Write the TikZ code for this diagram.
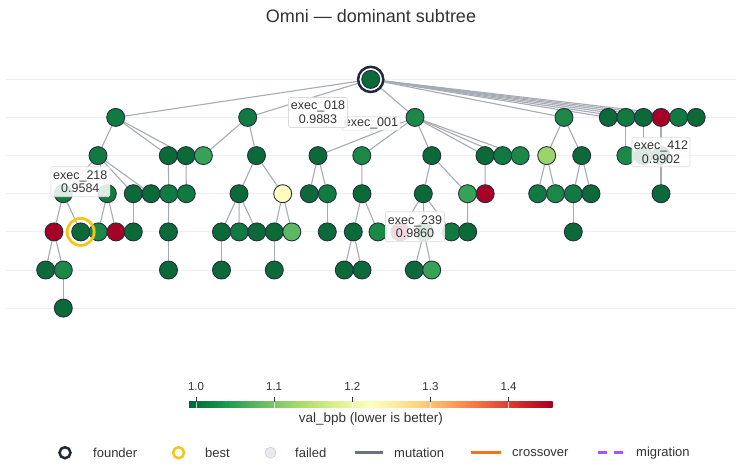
\documentclass[tikz,border=0pt]{standalone}
\usepackage{fontspec}
\setmainfont{Liberation Sans}
\usetikzlibrary{backgrounds}
\definecolor{g1}{HTML}{0B6A38}
\definecolor{g2}{HTML}{117A40}
\definecolor{g3}{HTML}{1B8848}
\definecolor{g4}{HTML}{35A257}
\definecolor{g5}{HTML}{5DB862}
\definecolor{yg}{HTML}{9CD46B}
\definecolor{py}{HTML}{FEFEC0}
\definecolor{rd}{HTML}{A50026}
\definecolor{ndborder}{HTML}{243040}
\definecolor{edgec}{HTML}{A7ACB4}
\definecolor{gridc}{HTML}{EEF0F3}
\definecolor{founderc}{HTML}{1E2A3B}
\definecolor{bestc}{HTML}{F5C518}
\definecolor{txt}{HTML}{333333}
\definecolor{lblborder}{HTML}{DDDDDD}
\definecolor{failc}{HTML}{E8EAEE}
\definecolor{failb}{HTML}{CDD3DB}
\definecolor{mutc}{HTML}{6B7280}
\definecolor{crossc}{HTML}{F97316}
\definecolor{migc}{HTML}{A855F7}
\definecolor{s0}{HTML}{006837}
\definecolor{s1}{HTML}{1A9850}
\definecolor{s2}{HTML}{66BD63}
\definecolor{s3}{HTML}{A6D96A}
\definecolor{s4}{HTML}{D9EF8B}
\definecolor{s5}{HTML}{FFFFBF}
\definecolor{s6}{HTML}{FEE08B}
\definecolor{s7}{HTML}{FDAE61}
\definecolor{s8}{HTML}{F46D43}
\definecolor{s9}{HTML}{D73027}
\definecolor{s10}{HTML}{A50026}
\begin{document}
\begin{tikzpicture}[x=1pt,y=-1pt,
  nd/.style={circle, draw=ndborder, line width=0.9pt, minimum size=18pt, inner sep=0pt},
  edge/.style={draw=edgec, line width=1.1pt},
  lbl/.style={draw=lblborder, line width=0.6pt, fill=white, fill opacity=0.86, text opacity=1,
    rounded corners=1.5pt, align=center, font=\fontsize{12.5}{13.7}\selectfont, text=txt,
    inner sep=0pt, minimum width=59pt, minimum height=30pt},
  legtxt/.style={anchor=west, font=\fontsize{13}{15}\selectfont, text=txt, inner sep=0pt},
  ticklbl/.style={anchor=base, font=\fontsize{11.5}{13}\selectfont, text=txt, inner sep=0pt}
]
\useasboundingbox (0,0) rectangle (742,467);

% title
\node[font=\fontsize{18}{20}\selectfont, text=txt] (title) at (371,16) {Omni — dominant subtree};

% ---- nodes ----
% root
\node[circle, draw=founderc, line width=2.5pt, fill=white, minimum size=25.2pt, inner sep=0pt] (Rr) at (370.7,79.4) {};
\node[nd, fill=g1] (R) at (370.7,79.4) {};
% level 1
\foreach \n/\x/\c in {A/115.7/g2, B/247.7/g2, C/415/g3, D/564/g3, E1/608.3/g1, E2/625.9/g2, E3/643.4/g1, E4/661/rd, E5/678.6/g2, E6/696.2/g1}
  \node[nd, fill=\c] (\n) at (\x,117.4) {};
% level 2
\foreach \n/\x/\c in {A1/98/g2, A2/168.3/g1, A3/186/g1, B1/203.4/g4, B2/256.5/g1, C1/318/g1, C2/361.8/g3, C3/431.8/g1, C4/485/g1, C5/502.6/g2, C6/520.2/g3, D1/546.7/yg, D2/581.7/g1, E2a/625.9/g3, E3a/643.4/g1, E4a/661/g1}
  \node[nd, fill=\c] (\n) at (\x,155.6) {};
% level 3
\foreach \n/\x/\c in {a1/63.3/g2, a2/107.3/g2, a3/133.3/g1, a4/151/g1, a5/168.8/g2, a6/186.3/g2, b1/239/g1, b2/282.7/py, c1/309.3/g1, c2/327.3/g2, c3/362/g1, c4/423.3/g1, c5/467.5/g4, c6/485.2/rd, d1/537.7/g2, d2/555.5/g3, d3/573.3/g2, d4/591/g1, e4/661/g1}
  \node[nd, fill=\c] (\n) at (\x,193.7) {};
% level 4
\foreach \n/\x/\c in {a1a/54/rd, a1b/80.7/g1, a2a/98.3/g3, a2b/116/rd, a3a/133.3/g1, a5a/168.5/g1, b1a/221.5/g1, b1b/239.2/g2, b1c/256.8/g1, b2a/274.3/g1, b2b/291.8/g5, c2a/327.3/g1, c3a/353.3/g1, c3b/378/g3, c4a/400/rd, c4b/424/g1, c4c/451.3/g2, c5a/467.7/g1, d3a/573.3/g1}
  \node[nd, fill=\c] (\n) at (\x,231.9) {};
% level 5
\foreach \n/\x/\c in {a1a1/45.7/g1, a1a2/63.3/g3, a5a1/168.5/g1, b1a1/221.5/g1, b2a1/274.3/g1, c3a1/344.3/g1, c3a2/362/g1, c4b1/414.3/g1, c4b2/431.7/g4}
  \node[nd, fill=\c] (\n) at (\x,270) {};
% level 6
\node[nd, fill=g1] (L6) at (63.3,308.1) {};

% best ring
\node[circle, draw=bestc, line width=2.8pt, minimum size=27pt, inner sep=0pt] (bestring) at (a1b.center) {};

% ---- background: grid + edges ----
\begin{pgfonlayer}{background}
\fill[white] (0,0) rectangle (742,467);
\foreach \y in {79.4,117.4,155.6,193.7,231.9,270,308.1}
  \draw[gridc, line width=1pt] (6,\y) -- (736,\y);
\foreach \p/\q in {R/A, R/B, R/C, R/D, R/E1, R/E2, R/E3, R/E4, R/E5, R/E6,
  A/A1, A/A2, A/A3, B/B1, B/B2, C/C1, C/C2, C/C3, C/C4, C/C5, C/C6, D/D1, D/D2,
  E2/E2a, E3/E3a, E4/E4a,
  A1/a1, A1/a2, A1/a3, A1/a4, A2/a5, A3/a6, B2/b1, B2/b2, C1/c1, C1/c2, C2/c3,
  C3/c4, C3/c5, C4/c6, D1/d1, D1/d2, D2/d3, D2/d4, E4a/e4,
  a1/a1a, a1/a1b, a2/a2a, a2/a2b, a3/a3a, a5/a5a, b1/b1a, b1/b1b, b1/b1c, b2/b2a, b2/b2b,
  c2/c2a, c3/c3a, c3/c3b, c4/c4a, c4/c4b, c4/c4c, c5/c5a, d3/d3a,
  a1a/a1a1, a1a/a1a2, a5a/a5a1, b1a/b1a1, b2a/b2a1, c3a/c3a1, c3a/c3a2, c4b/c4b1, c4b/c4b2,
  a1a2/L6}
  \draw[edge] (\p) -- (\q);
\end{pgfonlayer}

% ---- annotations ----
\node[lbl] (l218) at (80.3,181.7) {exec\_218\\0.9584};
\node[lbl, minimum width=58.3pt, minimum height=13.4pt] (l001) at (371,123.4) {exec\_001};
\node[lbl] (l018) at (318,112.5) {exec\_018\\0.9883};
\node[lbl] (l239) at (415,226.7) {exec\_239\\0.9860};
\node[lbl, minimum width=58pt, minimum height=29.4pt] (l412) at (661,152) {exec\_412\\0.9902};

% ---- colorbar ----
\shade[left color=s0, right color=s1] (189,401.7) rectangle (225.6,407.7);
\shade[left color=s1, right color=s2] (225.4,401.7) rectangle (261.9,407.7);
\shade[left color=s2, right color=s3] (261.7,401.7) rectangle (298.3,407.7);
\shade[left color=s3, right color=s4] (298.1,401.7) rectangle (334.7,407.7);
\shade[left color=s4, right color=s5] (334.5,401.7) rectangle (371.1,407.7);
\shade[left color=s5, right color=s6] (370.9,401.7) rectangle (407.4,407.7);
\shade[left color=s6, right color=s7] (407.2,401.7) rectangle (443.8,407.7);
\shade[left color=s7, right color=s8] (443.6,401.7) rectangle (480.2,407.7);
\shade[left color=s8, right color=s9] (480,401.7) rectangle (516.5,407.7);
\shade[left color=s9, right color=s10] (516.3,401.7) rectangle (552.7,407.7);
\foreach \x/\t in {196/1.0, 274.1/1.1, 352.3/1.2, 430.4/1.3, 508.5/1.4} {
  \draw[txt, line width=0.9pt] (\x,396.5) -- (\x,401.7);
  \draw[white, opacity=0.7, line width=0.6pt] (\x,401.7) -- (\x,407.7);
  \node[ticklbl] at (\x,390.2) {\t};
}
\node[font=\fontsize{13.5}{15}\selectfont, text=txt, inner sep=0pt] (cbtitle) at (370.8,419.3) {val\_bpb (lower is better)};

% ---- legend ----
\node[circle, draw=founderc, line width=2.5pt, fill=white, minimum size=11pt, inner sep=0pt] (lgf) at (65,452.7) {};
\node[legtxt] at (93,452.7) {founder};
\node[circle, draw=bestc, line width=2.5pt, fill=white, minimum size=11pt, inner sep=0pt] (lgb) at (178.6,452.7) {};
\node[legtxt] at (205,452.7) {best};
\node[circle, draw=failb, line width=0.7pt, fill=failc, minimum size=11pt, inner sep=0pt] (lgx) at (270.5,452.7) {};
\node[legtxt] at (295,452.7) {failed};
\coordinate (m1) at (355,452.7); \coordinate (m2) at (383,452.7);
\draw[mutc, line width=2.5pt] (m1) -- (m2);
\node[legtxt] at (394,452.7) {mutation};
\coordinate (x1) at (471,452.7); \coordinate (x2) at (501,452.7);
\draw[crossc, line width=2.5pt] (x1) -- (x2);
\node[legtxt] at (512,452.7) {crossover};
\coordinate (g1a) at (598,452.7); \coordinate (g2a) at (623,452.7);
\draw[migc, line width=2.5pt, dash pattern=on 9pt off 7pt] (g1a) -- (g2a);
\node[legtxt] at (636,452.7) {migration};
\end{tikzpicture}
\end{document}
